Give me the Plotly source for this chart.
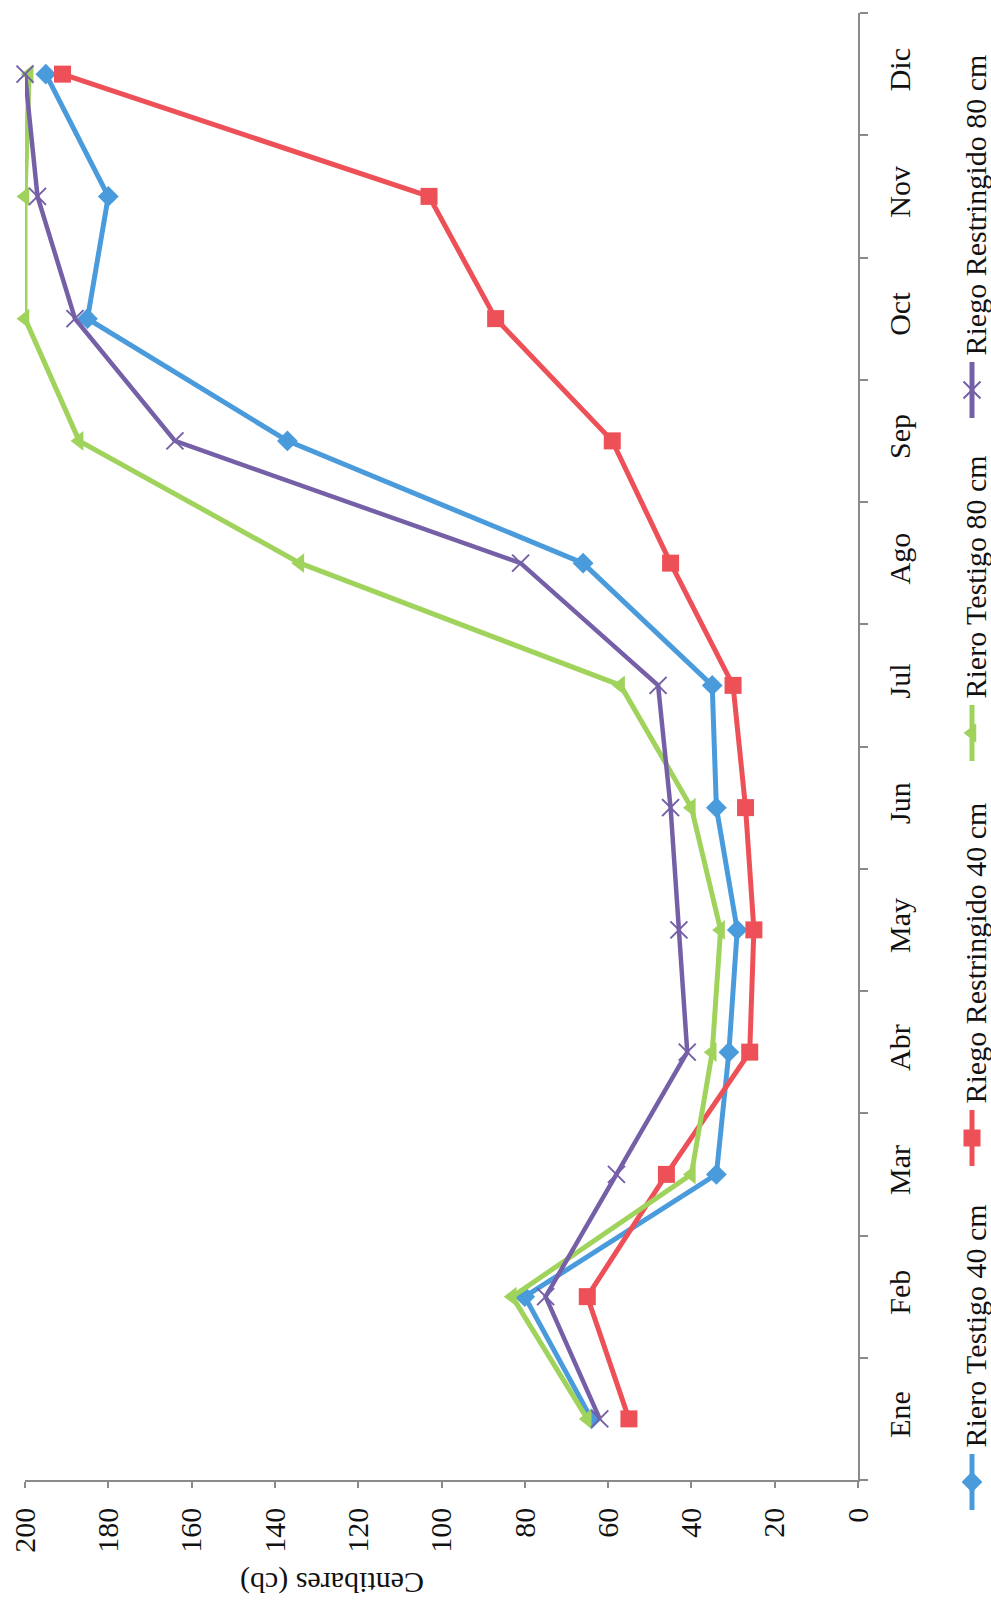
import plotly.graph_objects as go

# Monthly soil tension readings (centibars) per irrigation treatment
meses = ["Ene", "Feb", "Mar", "Abr", "May", "Jun", "Jul", "Ago", "Sep", "Oct", "Nov", "Dic"]
testigo_40 = [64, 80, 34, 31, 29, 34, 35, 66, 137, 185, 180, 195]
restringido_40 = [55, 65, 46, 26, 25, 27, 30, 45, 59, 87, 103, 191]
testigo_80 = [65, 83, 40, 35, 33, 40, 57, 134, 187, 200, 200, 199]
restringido_80 = [62, 75, 58, 41, 43, 45, 48, 81, 164, 188, 197, 200]
valores_eje = [0, 20, 40, 60, 80, 100, 120, 140, 160, 180, 200]

series = [
    ("Riero Testigo 40 cm", testigo_40, "#4A9BDC", "diamond", 16, 0),
    ("Riego Restringido 40 cm", restringido_40, "#EE5058", "square", 17, 0),
    ("Riero Testigo 80 cm", testigo_80, "#A0D35C", "triangle-left", 17, 0),
    ("Riego Restringido 80 cm", restringido_80, "#7560A8", "x-thin-open", 17, 2),
]

W, H = 991, 1602
# plot area in pixels
PX0, PX1, PY0, PY1 = 25, 858, 13, 1480
FONT = "Liberation Serif, Times New Roman, serif"

fig = go.Figure()

for nombre, vals, color, simbolo, tam, lw in series:
    fig.add_trace(go.Scatter(
        x=vals, y=meses, mode="lines+markers", name=nombre,
        line=dict(color=color, width=5 if simbolo != "x-thin-open" else 4.5),
        marker=dict(symbol=simbolo, size=tam, color=color,
                    line=dict(color=color if lw == 0 else "#6A5A8E", width=lw)),
        xaxis="x", yaxis="y", showlegend=False, cliponaxis=False,
    ))

# Vertical legend drawn in pixel space of an overlay axis pair
leyenda_centros = [1482, 1138, 733, 390]
for (nombre, vals, color, simbolo, tam, lw), yc in zip(series, leyenda_centros):
    fig.add_trace(go.Scatter(
        x=[972, 972], y=[yc - 28, yc + 28], mode="lines",
        line=dict(color=color, width=5), xaxis="x2", yaxis="y2",
        showlegend=False, hoverinfo="skip",
    ))
    fig.add_trace(go.Scatter(
        x=[972], y=[yc], mode="markers",
        marker=dict(symbol=simbolo, size=tam, color=color,
                    line=dict(color=color if lw == 0 else "#6A5A8E", width=lw)),
        xaxis="x2", yaxis="y2", showlegend=False, hoverinfo="skip",
    ))
    fig.add_annotation(
        x=975, y=yc - 32, xref="x2", yref="y2", text=nombre, textangle=-90,
        showarrow=False, xanchor="center", yanchor="bottom",
        font=dict(family=FONT, size=30, color="#111"),
    )

fig.add_annotation(
    x=332, y=1583, xref="x2", yref="y2", text="Centibares (cb)", textangle=180,
    showarrow=False, xanchor="center", yanchor="middle",
    font=dict(family=FONT, size=30, color="#111"),
)

fig.update_layout(
    width=W, height=H,
    margin=dict(l=0, r=0, t=0, b=0, autoexpand=False),
    paper_bgcolor="white", plot_bgcolor="rgba(0,0,0,0)",
    showlegend=False,
    xaxis=dict(
        domain=[PX0 / W, PX1 / W], range=[200, 0], tickvals=valores_eje,
        showgrid=False, zeroline=False, showline=True, linecolor="#8A8A8A", linewidth=1.5,
        ticks="outside", ticklen=6, tickcolor="#8A8A8A", tickwidth=1.5,
        tickangle=-90, ticklabelstandoff=8, automargin=False,
        tickfont=dict(family=FONT, size=30, color="#111"), anchor="y",
    ),
    yaxis=dict(
        domain=[1 - PY1 / H, 1 - PY0 / H], type="category", categoryarray=meses,
        range=[-0.5, 11.5], side="right", tickson="boundaries",
        showgrid=False, zeroline=False, showline=True, linecolor="#8A8A8A", linewidth=1.5,
        ticks="outside", ticklen=8, tickcolor="#8A8A8A", tickwidth=1.5,
        tickangle=-90, ticklabelstandoff=14, automargin=False,
        tickfont=dict(family=FONT, size=30, color="#111"), anchor="x",
    ),
    xaxis2=dict(domain=[0, 1], range=[0, W], visible=False, anchor="y2",
                fixedrange=True, automargin=False),
    yaxis2=dict(domain=[0, 1], range=[H, 0], visible=False, anchor="x2",
                fixedrange=True, automargin=False),
)

fig.write_html("out.html")
